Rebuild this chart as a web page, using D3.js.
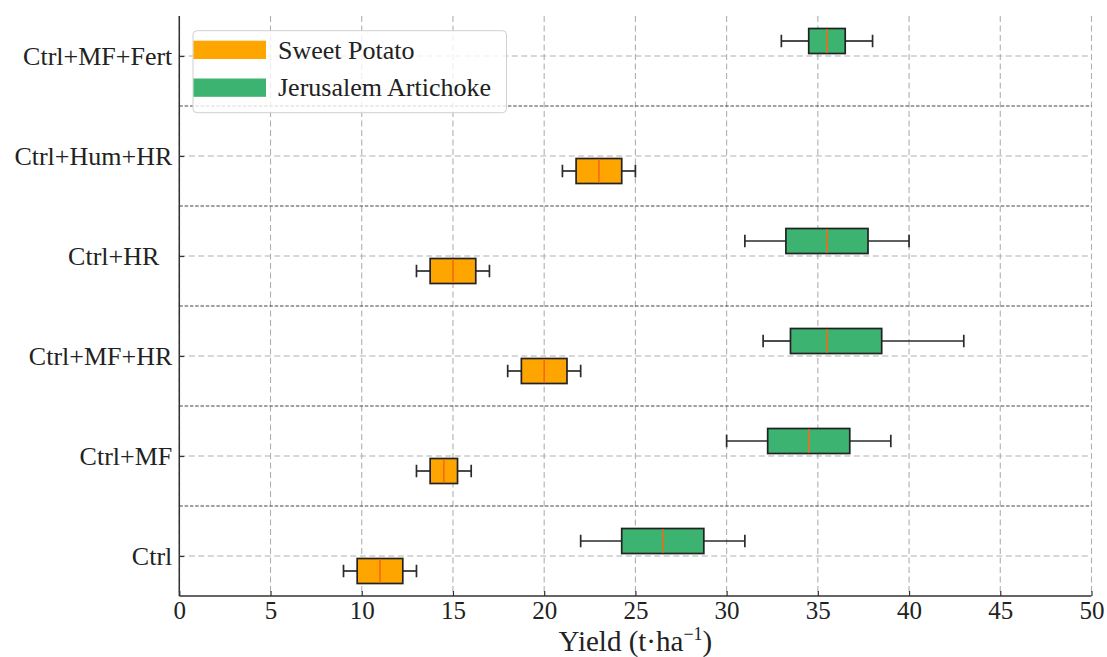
<!DOCTYPE html>
<html>
<head>
<meta charset="utf-8">
<script src="https://cdn.jsdelivr.net/npm/d3@7"></script>
<style>
  html, body { margin: 0; padding: 0; background: #fff; }
  svg { display: block; font-family: "Liberation Serif", "Times New Roman", serif; }
  text { white-space: pre; }
</style>
</head>
<body>
<svg id="chart" width="1107" height="657"></svg>
<script>
// ---- data ----
const categories = ["Ctrl", "Ctrl+MF", "Ctrl+MF+HR", "Ctrl+HR", "Ctrl+Hum+HR", "Ctrl+MF+Fert"];
const tickLabels = ["Ctrl", "Ctrl+MF", "Ctrl+MF+HR", "Ctrl+HR  ", "Ctrl+Hum+HR", "Ctrl+MF+Fert"];
const seriesNames = ["Sweet Potato", "Jerusalem Artichoke"];
const seriesColors = ["#FFA500", "#3CB371"];

const spMin = [9, 13, 18, 13, 21, null];
const spQ1  = [9.75, 13.75, 18.75, 13.75, 21.75, null];
const spMed = [11, 14.5, 20, 15, 23, null];
const spQ3  = [12.25, 15.25, 21.25, 16.25, 24.25, null];
const spMax = [13, 16, 22, 17, 25, null];

const jaMin = [22, 30, 32, 31, null, 33];
const jaQ1  = [24.25, 32.25, 33.5, 33.25, null, 34.5];
const jaMed = [26.5, 34.5, 35.5, 35.5, null, 35.5];
const jaQ3  = [28.75, 36.75, 38.5, 37.75, null, 36.5];
const jaMax = [31, 39, 43, 40, null, 38];

const xTicks = [0, 5, 10, 15, 20, 25, 30, 35, 40, 45, 50];

(function () {
// ---- build box records ----
const series = [
  { name: seriesNames[0], color: seriesColors[0], offset: -0.15, min: spMin, q1: spQ1, med: spMed, q3: spQ3, max: spMax },
  { name: seriesNames[1], color: seriesColors[1], offset: 0.15, min: jaMin, q1: jaQ1, med: jaMed, q3: jaQ3, max: jaMax }
];
const boxes = [];
series.forEach(s => {
  categories.forEach((c, i) => {
    if (s.med[i] == null) return;
    boxes.push({ pos: i + 1 + s.offset, color: s.color, min: s.min[i], q1: s.q1[i], med: s.med[i], q3: s.q3[i], max: s.max[i] });
  });
});

// ---- layout ----
const svg = d3.select("#chart");
const pL = 179.3, pR = 1091.5, pT = 16, pB = 596;
const x = d3.scaleLinear().domain([0, 50]).range([pL, pR]);
const y = d3.scaleLinear().domain([0.6, 6.4]).range([pB, pT]);
const boxW = 0.25;
const FONT = "'Liberation Serif', 'Times New Roman', serif";

// grid
const grid = svg.append("g");
grid.selectAll("line.vg").data(xTicks).join("line")
  .attr("x1", d => x(d)).attr("x2", d => x(d))
  .attr("y1", pT).attr("y2", pB)
  .attr("stroke", "#b0b0b0").attr("stroke-width", 1.1).attr("stroke-dasharray", "6,3.5");
grid.selectAll("line.hg").data(categories.map((c, i) => i + 1)).join("line")
  .attr("x1", pL).attr("x2", pR)
  .attr("y1", d => y(d)).attr("y2", d => y(d))
  .attr("stroke", "#b0b0b0").attr("stroke-width", 1.1).attr("stroke-dasharray", "6,3.5");

// separators
svg.append("g").selectAll("line").data(d3.range(1, categories.length)).join("line")
  .attr("x1", pL).attr("x2", pR)
  .attr("y1", d => y(d + 0.5)).attr("y2", d => y(d + 0.5))
  .attr("stroke", "#444").attr("stroke-width", 1).attr("stroke-dasharray", "3.5,1.8");

// boxes
const bg = svg.append("g").selectAll("g").data(boxes).join("g");
const capH = (y(0) - y(boxW / 4));
bg.append("line")
  .attr("x1", d => x(d.min)).attr("x2", d => x(d.q1))
  .attr("y1", d => y(d.pos)).attr("y2", d => y(d.pos))
  .attr("stroke", "#2b2b2b").attr("stroke-width", 1.7);
bg.append("line")
  .attr("x1", d => x(d.q3)).attr("x2", d => x(d.max))
  .attr("y1", d => y(d.pos)).attr("y2", d => y(d.pos))
  .attr("stroke", "#2b2b2b").attr("stroke-width", 1.7);
bg.append("line")
  .attr("x1", d => x(d.min)).attr("x2", d => x(d.min))
  .attr("y1", d => y(d.pos) - capH).attr("y2", d => y(d.pos) + capH)
  .attr("stroke", "#2b2b2b").attr("stroke-width", 1.7);
bg.append("line")
  .attr("x1", d => x(d.max)).attr("x2", d => x(d.max))
  .attr("y1", d => y(d.pos) - capH).attr("y2", d => y(d.pos) + capH)
  .attr("stroke", "#2b2b2b").attr("stroke-width", 1.7);
bg.append("rect")
  .attr("x", d => x(d.q1)).attr("width", d => x(d.q3) - x(d.q1))
  .attr("y", d => y(d.pos + boxW / 2)).attr("height", d => y(d.pos - boxW / 2) - y(d.pos + boxW / 2))
  .attr("fill", d => d.color).attr("stroke", "#222").attr("stroke-width", 1.7);
bg.append("line")
  .attr("x1", d => x(d.med)).attr("x2", d => x(d.med))
  .attr("y1", d => y(d.pos + boxW / 2) + 0.8).attr("y2", d => y(d.pos - boxW / 2) - 0.8)
  .attr("stroke", "#f7681a").attr("stroke-width", 1.6);

// axes
const xAxis = d3.axisBottom(x).tickValues(xTicks).tickFormat(d3.format("d")).tickSize(-5).tickPadding(5);
const gx = svg.append("g").attr("transform", `translate(0,${pB})`).call(xAxis)
  .attr("font-family", FONT);
gx.select(".domain").attr("stroke", "#333").attr("stroke-width", 1.5).attr("d", `M${pL},0H${pR}`);
gx.selectAll(".tick line").attr("stroke", "#333").attr("stroke-width", 1.2);
gx.selectAll(".tick text").attr("font-size", 25).attr("fill", "#222");

const yAxis = d3.axisLeft(y).tickValues(categories.map((c, i) => i + 1))
  .tickFormat((d, i) => tickLabels[i]).tickSize(-5).tickPadding(7);
const gy = svg.append("g").attr("transform", `translate(${pL},0)`).call(yAxis)
  .attr("font-family", FONT);
gy.select(".domain").attr("stroke", "#333").attr("stroke-width", 1.5).attr("d", `M0,${pT}V${pB}`);
gy.selectAll(".tick line").attr("stroke", "#333").attr("stroke-width", 1.2);
gy.selectAll(".tick text").attr("font-size", 26).attr("fill", "#222");

// axis title
const title = svg.append("text")
  .attr("x", (pL + pR) / 2).attr("y", 651)
  .attr("text-anchor", "middle").attr("font-size", 29).attr("fill", "#222");
title.append("tspan").text("Yield (t·ha");
title.append("tspan").text("−1").attr("font-size", 18).attr("dy", -11);
title.append("tspan").text(")").attr("dy", 11);

// legend
const lg = svg.append("g");
lg.append("rect").attr("x", 193).attr("y", 30.7).attr("width", 313.5).attr("height", 82)
  .attr("rx", 4).attr("fill", "#fff").attr("fill-opacity", 0.8)
  .attr("stroke", "#d0d0d0").attr("stroke-width", 1);
const li = lg.selectAll("g.item").data(series).join("g")
  .attr("transform", (d, i) => `translate(0,${i * 37.8})`);
li.append("rect").attr("x", 193.5).attr("y", 40.7).attr("width", 72.5).attr("height", 18.3)
  .attr("fill", d => d.color);
li.append("text").attr("x", 278).attr("y", 58.7).attr("font-size", 26).attr("fill", "#222")
  .text(d => d.name);
})();
</script>
</body>
</html>
